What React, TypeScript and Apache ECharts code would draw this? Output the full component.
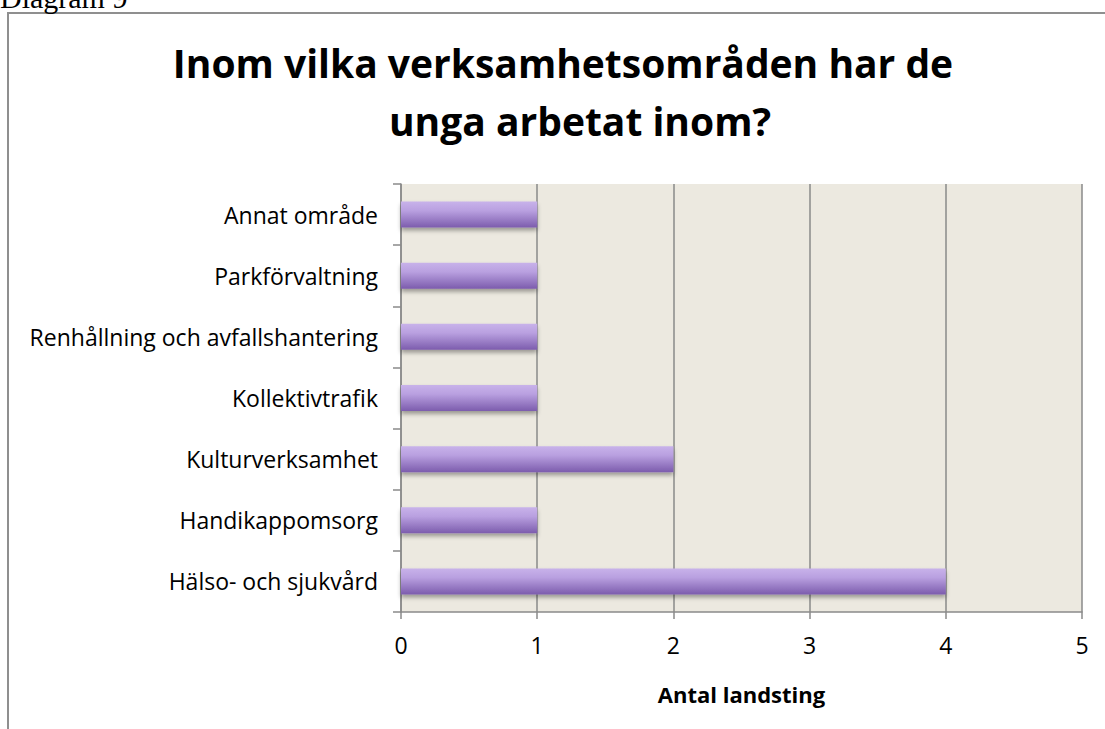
import React, { useEffect, useRef } from "react";
import * as echarts from "echarts";

const categories = [
  "Hälso- och sjukvård",
  "Handikappomsorg",
  "Kulturverksamhet",
  "Kollektivtrafik",
  "Renhållning och avfallshantering",
  "Parkförvaltning",
  "Annat område",
];
const values = [4, 1, 2, 1, 1, 1, 1];
const titleLines = ["Inom vilka verksamhetsområden har de", "unga arbetat inom?"];
const axisName = "Antal landsting";
const caption = "Diagram 9";

export default function App() {
  const ref = useRef<HTMLDivElement>(null);
  useEffect(() => {
    if (!ref.current) return;
    const chart = echarts.init(ref.current, null, { renderer: "svg" });
    const font = "'Open Sans', Lato, sans-serif";
    chart.setOption({
      animation: false,
      backgroundColor: "#ffffff",
      grid: { left: 401, top: 184, width: 681, height: 428, containLabel: false },
      graphic: [
        {
          type: "rect",
          shape: { x: 8, y: 13, width: 1200, height: 800 },
          style: { fill: "none", stroke: "#8f8f8f", lineWidth: 2 },
          z: 0,
        },
        {
          type: "text",
          x: 0,
          y: -3,
          style: {
            text: caption,
            font: "30px 'Liberation Serif', 'Times New Roman', serif",
            fill: "#000",
            verticalAlign: "middle",
          },
        },
        {
          type: "text",
          x: 563,
          y: 62,
          style: {
            text: titleLines[0],
            font: "bold 39px " + font,
            fill: "#000",
            align: "center",
            verticalAlign: "middle",
          },
        },
        {
          type: "text",
          x: 580,
          y: 120,
          style: {
            text: titleLines[1],
            font: "bold 39px " + font,
            fill: "#000",
            align: "center",
            verticalAlign: "middle",
          },
        },
        {
          type: "rect",
          shape: { x: 401, y: 184, width: 681, height: 428 },
          style: { fill: "#ecE9e0" },
          z: -1,
          silent: true,
        },
      ],
      xAxis: {
        type: "value",
        min: 0,
        max: 5,
        interval: 1,
        name: axisName,
        nameLocation: "middle",
        nameGap: 71,
        nameTextStyle: { fontFamily: font, fontWeight: "bold", fontSize: 22, color: "#000" },
        axisLine: { show: true, lineStyle: { color: "#8a8a8a", width: 1.5 } },
        axisTick: { show: true, length: 7, lineStyle: { color: "#8a8a8a", width: 1.5 } },
        axisLabel: { fontFamily: font, fontSize: 23, color: "#000", margin: 21 },
        splitLine: { show: true, lineStyle: { color: "#8a8a8a", width: 1.5 } },
      },
      yAxis: {
        type: "category",
        data: categories,
        axisLine: { show: true, lineStyle: { color: "#8a8a8a", width: 1.5 } },
        axisTick: { show: true, length: 8, lineStyle: { color: "#8a8a8a", width: 1.5 } },
        axisLabel: { fontFamily: font, fontSize: 23, color: "#000", margin: 23 },
        splitLine: { show: false },
      },
      series: [
        {
          type: "bar",
          data: values,
          barWidth: 26,
          itemStyle: {
            color: new echarts.graphic.LinearGradient(0, 0, 0, 1, [
              { offset: 0, color: "#c8b2ea" },
              { offset: 0.35, color: "#b9a0e0" },
              { offset: 1, color: "#7c5cad" },
            ]),
            shadowColor: "rgba(0,0,0,0.35)",
            shadowBlur: 4,
            shadowOffsetY: 3,
          },
        },
      ],
    });
    return () => chart.dispose();
  }, []);
  return (
    <div
      ref={ref}
      style={{ position: "absolute", left: 0, top: 0, width: 1105, height: 729 }}
    />
  );
}
